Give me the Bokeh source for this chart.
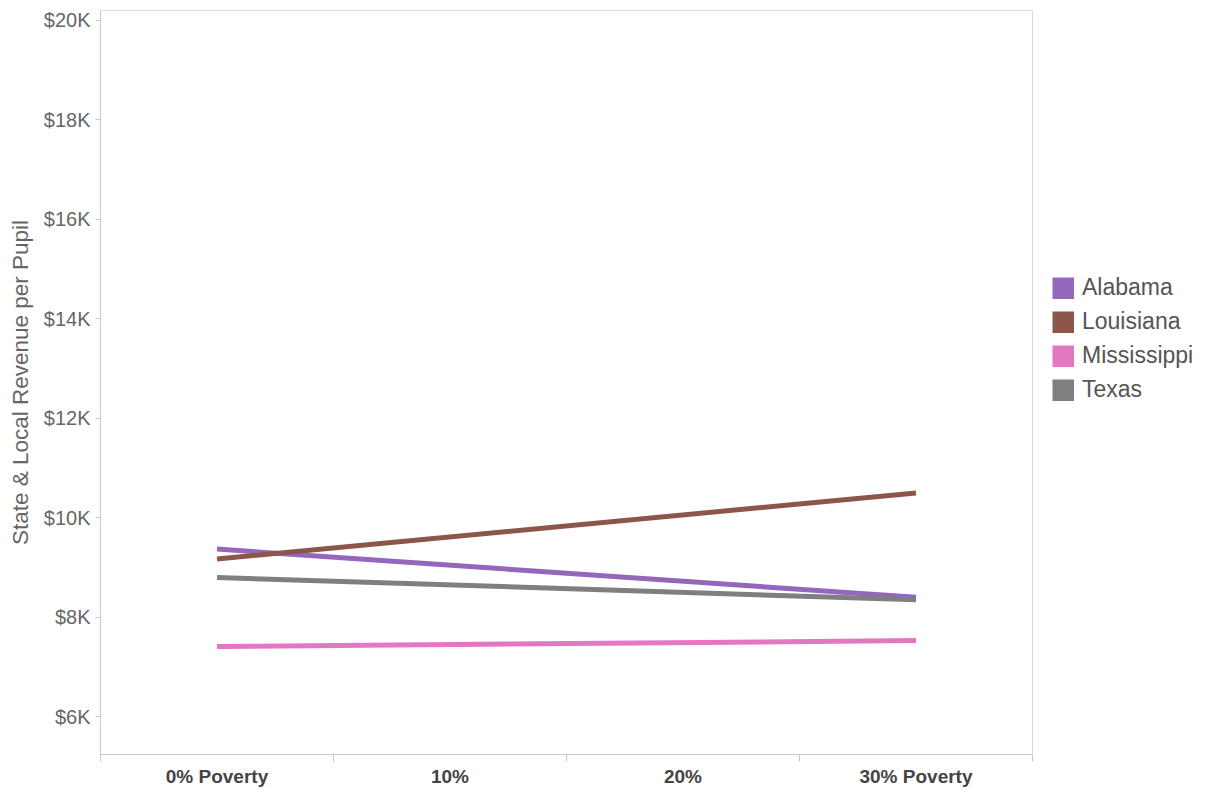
from bokeh.plotting import figure
from bokeh.layouts import row
from bokeh.models import (ColumnDataSource, FixedTicker, Range1d, Legend, LegendItem)
from bokeh.embed import file_html
from bokeh.resources import INLINE

# ---- data ----
categories = ["0% Poverty", "10%", "20%", "30% Poverty"]
cat_pos = [0, 1, 2, 3]
states = ["Alabama", "Louisiana", "Mississippi", "Texas"]
colors = ["#9467bd", "#8c564b", "#e377c2", "#7f7f7f"]
# revenue at 0% poverty and at 30% poverty (straight-line trend)
alabama = [9370, 8400]
louisiana = [9170, 10500]
mississippi = [7410, 7530]
texas = [8800, 8350]
series = [alabama, louisiana, mississippi, texas]
line_x = [0, 3]
y_ticks = [6000, 8000, 10000, 12000, 14000, 16000, 18000, 20000]
y_tick_labels = ["$6K", "$8K", "$10K", "$12K", "$14K", "$16K", "$18K", "$20K"]

FONT = "Liberation Sans"

p = figure(width=1040, height=789, output_backend="svg", toolbar_location=None,
           x_range=Range1d(-0.5, 3.5), y_range=Range1d(5240, 20200),
           min_border_left=100, min_border_right=8, min_border_top=10,
           min_border_bottom=31)
p.background_fill_color = "white"
p.border_fill_color = "white"
p.outline_line_color = "#dadada"
p.outline_line_width = 1
p.xgrid.visible = False
p.ygrid.visible = False

sources = []
for name, vals, col in zip(states, series, colors):
    src = ColumnDataSource(dict(x=line_x, y=vals))
    sources.append(src)
    p.line("x", "y", source=src, line_color=col, line_width=5)

# x axis
xa = p.xaxis[0]
xa.ticker = FixedTicker(ticks=cat_pos, minor_ticks=[-0.5, 0.5, 1.5, 2.5, 3.5])
xa.major_label_overrides = {i: c for i, c in zip(cat_pos, categories)}
xa.major_tick_line_color = None
xa.major_tick_out = 0
xa.major_tick_in = 0
xa.minor_tick_line_color = "#c8c8c8"
xa.minor_tick_out = 7
xa.minor_tick_in = 0
xa.axis_line_color = "#c8c8c8"
xa.major_label_standoff = 4
xa.major_label_text_font = FONT
xa.major_label_text_font_style = "bold"
xa.major_label_text_font_size = "19px"
xa.major_label_text_color = "#444444"

# y axis
ya = p.yaxis[0]
ya.ticker = FixedTicker(ticks=y_ticks, minor_ticks=[])
ya.major_label_overrides = {v: l for v, l in zip(y_ticks, y_tick_labels)}
ya.major_tick_line_color = "#c8c8c8"
ya.major_tick_out = 5
ya.major_tick_in = 0
ya.minor_tick_line_color = None
ya.axis_line_color = "#c8c8c8"
ya.major_label_standoff = 5
ya.major_label_text_font = FONT
ya.major_label_text_font_size = "20px"
ya.major_label_text_color = "#666666"
ya.axis_label = "State & Local Revenue per Pupil"
ya.axis_label_text_font = FONT
ya.axis_label_text_font_style = "normal"
ya.axis_label_text_font_size = "22.5px"
ya.axis_label_text_color = "#666666"
ya.axis_label_standoff = 8

# ---- legend panel (separate figure so it is not clipped) ----
lg = figure(width=156, height=789, output_backend="svg", toolbar_location=None,
            x_range=Range1d(0, 1), y_range=Range1d(0, 1),
            min_border_left=0, min_border_right=0, min_border_top=0,
            min_border_bottom=0)
lg.axis.visible = False
lg.grid.visible = False
lg.outline_line_color = None
lg.background_fill_color = "white"
lg.border_fill_color = "white"

# legend swatch renderers share the series data (their lines fall outside
# this panel's range, so only the legend swatches are visible)
items = []
for name, src, col in zip(states, sources, colors):
    r = lg.line("x", "y", source=src, line_color=col, line_width=22, line_cap="butt")
    items.append(LegendItem(label=name, renderers=[r]))
legend = Legend(items=items, location=(12, 351), padding=0, margin=0,
                glyph_width=22, glyph_height=22, label_height=22, spacing=7,
                label_standoff=8, label_text_font=FONT, label_text_font_size="23px",
                label_text_color="#555555", border_line_color=None,
                background_fill_alpha=0)
lg.add_layout(legend)

layout = row(p, lg, spacing=0)
open("out.html", "w").write(file_html(layout, INLINE))
